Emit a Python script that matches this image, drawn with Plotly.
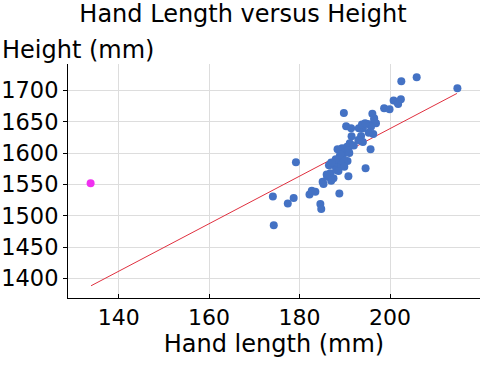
import plotly.graph_objects as go

hand_length = [202.5, 205.9, 214.9, 200.8, 201.6, 202.4, 201.8, 198.7, 199.9, 196.1,
               196.5, 196.9, 196.5, 195.1, 195.8, 196.3, 195.3, 194.0, 193.6, 193.4,
               194.0, 195.7, 189.8, 190.3, 191.4, 191.5, 191.1, 190.5, 189.4, 188.4,
               188.9, 189.6, 190.6, 189.7, 189.1, 188.3, 187.5, 186.5, 186.8, 187.5,
               188.1, 188.6, 189.9, 190.8, 194.6, 185.1, 185.3, 186.1, 187.0, 188.8,
               182.2, 182.7, 183.5, 184.6, 184.8, 179.2, 174.1, 177.4, 178.7, 174.3,
               190.1, 190.8, 193.0, 193.1, 193.8, 194.5, 192.0, 191.0, 189.0, 188.0,
               187.0, 186.0]
height = [1714.6, 1721.0, 1703.5, 1684.0, 1681.0, 1686.0, 1678.4, 1671.5, 1670.0, 1662.5,
          1655.5, 1647.5, 1652.0, 1646.5, 1642.0, 1630.5, 1632.6, 1639.6, 1627.3, 1620.0,
          1617.7, 1606.0, 1664.0, 1642.8, 1639.6, 1626.8, 1615.6, 1610.0, 1607.6, 1606.0,
          1594.3, 1597.0, 1587.4, 1589.0, 1583.7, 1577.3, 1581.0, 1580.5, 1567.7, 1559.7,
          1573.0, 1571.4, 1578.3, 1563.0, 1575.7, 1554.4, 1550.7, 1562.4, 1556.0, 1535.7,
          1534.0, 1540.0, 1538.4, 1518.7, 1510.7, 1585.3, 1530.9, 1519.7, 1528.3, 1485.0,
          1602.0, 1605.0, 1621.0, 1639.6, 1645.4, 1647.6, 1612.0, 1600.0, 1598.0, 1590.0,
          1585.0, 1566.0]

outlier_hand = [133.8]
outlier_height = [1552]

fit_slope = 3.79
fit_intercept = 881.0
fit_x = [133.9, 214.8]
fit_y = [fit_intercept + fit_slope * v for v in fit_x]

x_ticks = [140, 160, 180, 200]
y_ticks = [1400, 1450, 1500, 1550, 1600, 1650, 1700]

FONT = "DejaVu Sans"

fig = go.Figure()
fig.add_trace(go.Scatter(x=fit_x, y=fit_y, mode="lines",
                         line=dict(color="#E0303F", width=1), showlegend=False))
fig.add_trace(go.Scatter(x=hand_length, y=height, mode="markers",
                         marker=dict(color="#4472C4", size=8), showlegend=False))
fig.add_trace(go.Scatter(x=outlier_hand, y=outlier_height, mode="markers",
                         marker=dict(color="#F030F0", size=8), showlegend=False))

fig.update_layout(
    width=486, height=366,
    margin=dict(l=68, r=6, t=64, b=68),
    paper_bgcolor="white", plot_bgcolor="white",
    font=dict(family=FONT, color="black"),
    title=dict(text="Hand Length versus Height", x=0.5, xanchor="center",
               xref="container", y=0.962, yanchor="middle", yref="container",
               font=dict(size=24, family=FONT)),
    xaxis=dict(range=[128.8, 219.9], tickvals=x_ticks, showgrid=True,
               gridcolor="#DDDDDD", gridwidth=1, zeroline=False,
               showline=True, linecolor="black", linewidth=1,
               ticks="inside", ticklen=4, tickcolor="black", automargin=False,
               tickfont=dict(size=22),
               title=dict(text="Hand length (mm)", font=dict(size=24), standoff=4)),
    yaxis=dict(range=[1369, 1742], tickvals=y_ticks, showgrid=True,
               gridcolor="#DDDDDD", gridwidth=1, zeroline=False,
               showline=True, linecolor="black", linewidth=1,
               ticks="outside", ticklen=4, tickcolor="black", automargin=False,
               tickfont=dict(size=22.5)),
    annotations=[dict(text="Height (mm)", xref="paper", yref="paper",
                      x=-0.166, y=1.0, xanchor="left", yanchor="bottom", yshift=-2,
                      showarrow=False, font=dict(size=24, family=FONT))],
)

fig.write_html("out.html", config={"displayModeBar": False},
               post_script="document.body.style.margin='0';document.body.style.padding='0';")
